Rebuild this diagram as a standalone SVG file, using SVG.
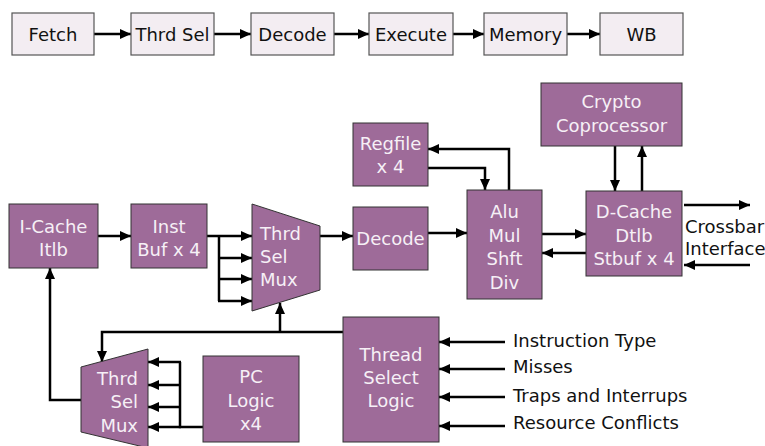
<svg xmlns="http://www.w3.org/2000/svg" width="765" height="446" viewBox="0 0 765 446">
<defs>
<marker id="ah" markerUnits="userSpaceOnUse" markerWidth="11" markerHeight="10" refX="11" refY="5" orient="auto"><path d="M0,0 L11,5 L0,10 z" fill="#000"/></marker>
<style>
.stage{fill:#f3edf2;stroke:#555;stroke-width:1.2}
.blk{fill:#9e6b99;stroke:#333;stroke-width:1}
.t{font-family:"DejaVu Sans","Liberation Sans",sans-serif;font-size:18px;fill:#111;text-anchor:middle}
.w{font-family:"DejaVu Sans","Liberation Sans",sans-serif;font-size:18px;fill:#f6f0f6;text-anchor:middle}
.lbl{font-family:"DejaVu Sans","Liberation Sans",sans-serif;font-size:18px;fill:#111}
.c{fill:none;stroke:#000;stroke-width:2.5}
.a{fill:none;stroke:#000;stroke-width:2.5;marker-end:url(#ah)}
</style>
</defs>
<rect width="765" height="446" fill="#fff"/>

<g id="connectors">
<path class="a" d="M94,34 H131"/>
<path class="a" d="M214,34 H251"/>
<path class="a" d="M334,34 H369"/>
<path class="a" d="M453,34 H484"/>
<path class="a" d="M567,34 H600"/>

<path class="a" d="M98,236 H131"/>
<path class="a" d="M207,236 H252"/>
<path class="c" d="M219,236 V301"/>
<path class="a" d="M218,258 H252"/>
<path class="a" d="M218,279 H252"/>
<path class="a" d="M218,301 H252"/>
<path class="a" d="M320,236 H353"/>
<path class="a" d="M428,233 H467"/>
<path class="a" d="M509,190 V149 H428"/>
<path class="a" d="M428,168 H485 V190"/>
<path class="a" d="M542,234 H586"/>
<path class="a" d="M586,253 H542"/>
<path class="a" d="M615,146 V191"/>
<path class="a" d="M642,191 V146"/>
<path class="a" d="M684,205 H750"/>
<path class="a" d="M750,265 H684"/>

<path class="a" d="M343,332 H102 V362"/>
<path class="a" d="M280,332 V303"/>
<path class="a" d="M81,400 H50 V268"/>
<path class="c" d="M203,427 H180 V362"/>
<path class="a" d="M181,362 H148"/>
<path class="a" d="M181,385 H148"/>
<path class="a" d="M181,407 H148"/>
<path class="a" d="M181,427 H148"/>

<path class="a" d="M505,342 H439"/>
<path class="a" d="M505,369 H439"/>
<path class="a" d="M505,397 H439"/>
<path class="a" d="M505,426 H439"/>
</g>

<g id="fetch"><rect class="stage" x="12" y="13" width="82" height="42"/><text class="t" x="53" y="41">Fetch</text></g>
<g id="thrdsel-stage"><rect class="stage" x="131" y="13" width="83" height="42"/><text class="t" x="172.5" y="41">Thrd Sel</text></g>
<g id="decode-stage"><rect class="stage" x="251" y="13" width="83" height="42"/><text class="t" x="292.5" y="41">Decode</text></g>
<g id="execute-stage"><rect class="stage" x="369" y="13" width="84" height="42"/><text class="t" x="411" y="41">Execute</text></g>
<g id="memory-stage"><rect class="stage" x="484" y="13" width="83" height="42"/><text class="t" x="525.5" y="41">Memory</text></g>
<g id="wb-stage"><rect class="stage" x="600" y="13" width="83" height="42"/><text class="t" x="641.5" y="41">WB</text></g>

<g id="icache"><rect class="blk" x="9" y="204" width="89" height="64"/><text class="w" x="53.5" y="233">I-Cache</text><text class="w" x="53.5" y="256">Itlb</text></g>
<g id="instbuf"><rect class="blk" x="131" y="204" width="76" height="64"/><text class="w" x="169" y="233">Inst</text><text class="w" x="169" y="256">Buf x 4</text></g>
<g id="mux-top"><polygon class="blk" points="252,204 320,226 320,290 252,311"/>
<text class="w" x="260" y="240" text-anchor="start" style="text-anchor:start">Thrd</text><text class="w" x="260" y="263" style="text-anchor:start">Sel</text><text class="w" x="260" y="286" style="text-anchor:start">Mux</text></g>
<g id="decode"><rect class="blk" x="353" y="207" width="75" height="63"/><text class="w" x="390.5" y="245">Decode</text></g>
<g id="regfile"><rect class="blk" x="353" y="123" width="75" height="63"/><text class="w" x="390.5" y="150">Regfile</text><text class="w" x="390.5" y="173">x 4</text></g>
<g id="alu"><rect class="blk" x="467" y="190" width="75" height="109"/><text class="w" x="504.5" y="218">Alu</text><text class="w" x="504.5" y="242">Mul</text><text class="w" x="504.5" y="265">Shft</text><text class="w" x="504.5" y="289">Div</text></g>
<g id="crypto"><rect class="blk" x="541" y="83" width="141" height="63"/><text class="w" x="611.5" y="108">Crypto</text><text class="w" x="611.5" y="132">Coprocessor</text></g>
<g id="dcache"><rect class="blk" x="586" y="191" width="96" height="85"/><text class="w" x="634" y="218">D-Cache</text><text class="w" x="634" y="242">Dtlb</text><text class="w" x="634" y="265">Stbuf x 4</text></g>
<g id="crossbar"><text class="lbl" x="685" y="233">Crossbar</text><text class="lbl" x="685" y="255">Interface</text></g>
<g id="mux-bottom"><polygon class="blk" points="81,367 148,349 148,448 81,432"/>
<text class="w" x="138" y="385" style="text-anchor:end">Thrd</text><text class="w" x="138" y="408" style="text-anchor:end">Sel</text><text class="w" x="138" y="432" style="text-anchor:end">Mux</text></g>
<g id="pclogic"><rect class="blk" x="203" y="356" width="96" height="86"/><text class="w" x="251" y="383">PC</text><text class="w" x="251" y="407">Logic</text><text class="w" x="251" y="430">x4</text></g>
<g id="tsl"><rect class="blk" x="343" y="317" width="96" height="125"/><text class="w" x="391" y="361">Thread</text><text class="w" x="391" y="384">Select</text><text class="w" x="391" y="407">Logic</text></g>
<g id="inputs">
<text class="lbl" x="513" y="347">Instruction Type</text>
<text class="lbl" x="513" y="373">Misses</text>
<text class="lbl" x="513" y="402">Traps and Interrups</text>
<text class="lbl" x="513" y="429">Resource Conflicts</text>
</g>
</svg>
